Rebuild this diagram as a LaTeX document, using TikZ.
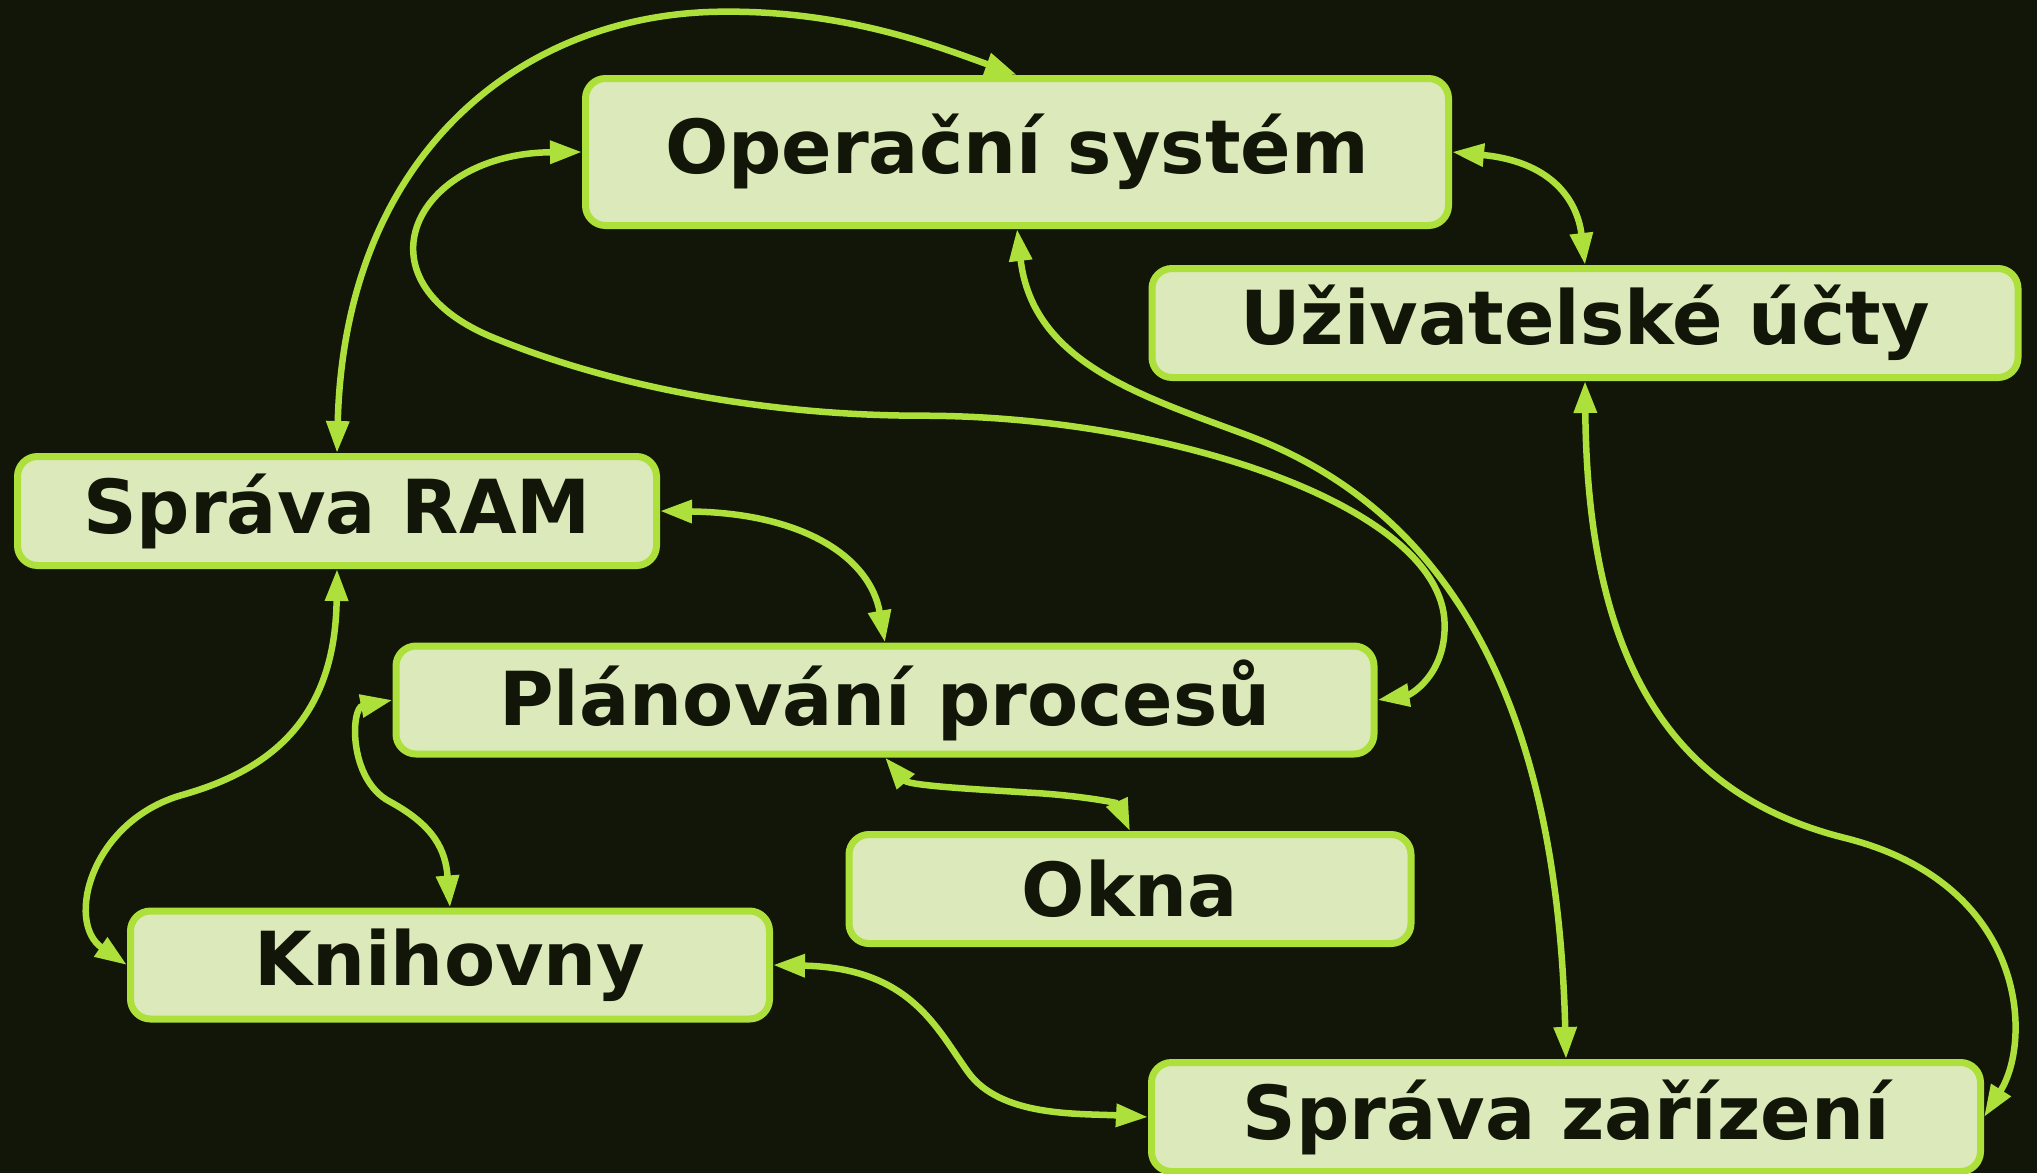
\documentclass[tikz,border=0pt]{standalone}
\usepackage{fontspec}
\setmainfont{DejaVu Sans}
\usetikzlibrary{arrows.meta}
\definecolor{bgdark}{HTML}{111609}
\definecolor{boxfill}{HTML}{DCE9BA}
\definecolor{limeline}{HTML}{ADE03A}
\tikzset{
  topic/.style={draw=limeline, fill=boxfill, line width=7pt, rounded corners=20pt,
    text=bgdark, font=\fontsize{74.5}{90}\selectfont\bfseries, inner sep=0pt},
  link/.style={draw=limeline, line width=6.5pt,
    {Triangle[length=32pt,width=22pt]}-{Triangle[length=32pt,width=22pt]}}
}
\begin{document}
\begin{tikzpicture}[x=1pt,y=-1pt]
  \fill[bgdark] (0,0) rectangle (2037,1173);
  \useasboundingbox (0,0) rectangle (2037,1173);

  % topic boxes
  \node[topic, minimum width=863pt, minimum height=147pt] (os)    at (1017,152)  {Operační systém};
  \node[topic, minimum width=866pt, minimum height=109pt] (uz)    at (1585,323)  {Uživatelské účty};
  \node[topic, minimum width=639pt, minimum height=109pt] (ram)   at (337,511)   {Správa RAM};
  \node[topic, minimum width=978pt, minimum height=108pt] (plan)  at (885,700)   {Plánování procesů};
  \node[topic, minimum width=562pt, minimum height=109pt] (okna)  at (1130,889)  {Okna};
  \node[topic, minimum width=639pt, minimum height=108pt] (kniha) at (450,965)   {Knihovny};
  \node[topic, minimum width=829pt, minimum height=109pt] (dev)   at (1566,1117) {Správa zařízení};

  % two-way links between topics
  \begin{scope}[x=1.29911pt,y=-1.29911pt]
    \draw[link] (ram.north) .. controls (265,120) and (400,10) .. (556,9)
      .. controls (650,8) and (720,35) .. (os.north);
    \draw[link] (os.west) .. controls (320,118) and (270,215) .. (380,260)
      .. controls (480,301) and (600,320) .. (710,320)
      .. controls (900,320) and (1110,390) .. (1112,480)
      .. controls (1113,520) and (1085,535) .. (plan.east);
    \draw[link] (os.south) .. controls (795,280) and (880,305) .. (960,335)
      .. controls (1150,406) and (1200,600) .. (dev.north);
    \draw[link] (os.east) .. controls (1200,125) and (1215,160) .. (uz.north);
    \draw[link] (uz.south) .. controls (1222,500) and (1280,610) .. (1420,645)
      .. controls (1560,680) and (1565,800) .. (dev.east);
    \draw[link] (ram.east) .. controls (620,395) and (670,430) .. (plan.north);
    \draw[link] (ram.south) .. controls (258,560) and (200,595) .. (140,612)
      .. controls (70,632) and (50,710) .. (kniha.west);
    \draw[link] (plan.west) .. controls (270,545) and (268,600) .. (300,617)
      .. controls (335,636) and (343,655) .. (kniha.north);
    \draw[link] (plan.south) .. controls (700,605) and (760,608) .. (790,610)
      .. controls (830,612) and (860,618) .. (okna.north);
    \draw[link] (kniha.east) .. controls (700,745) and (720,790) .. (745,825)
      .. controls (770,860) and (830,857) .. (dev.west);
  \end{scope}
\end{tikzpicture}
\end{document}
